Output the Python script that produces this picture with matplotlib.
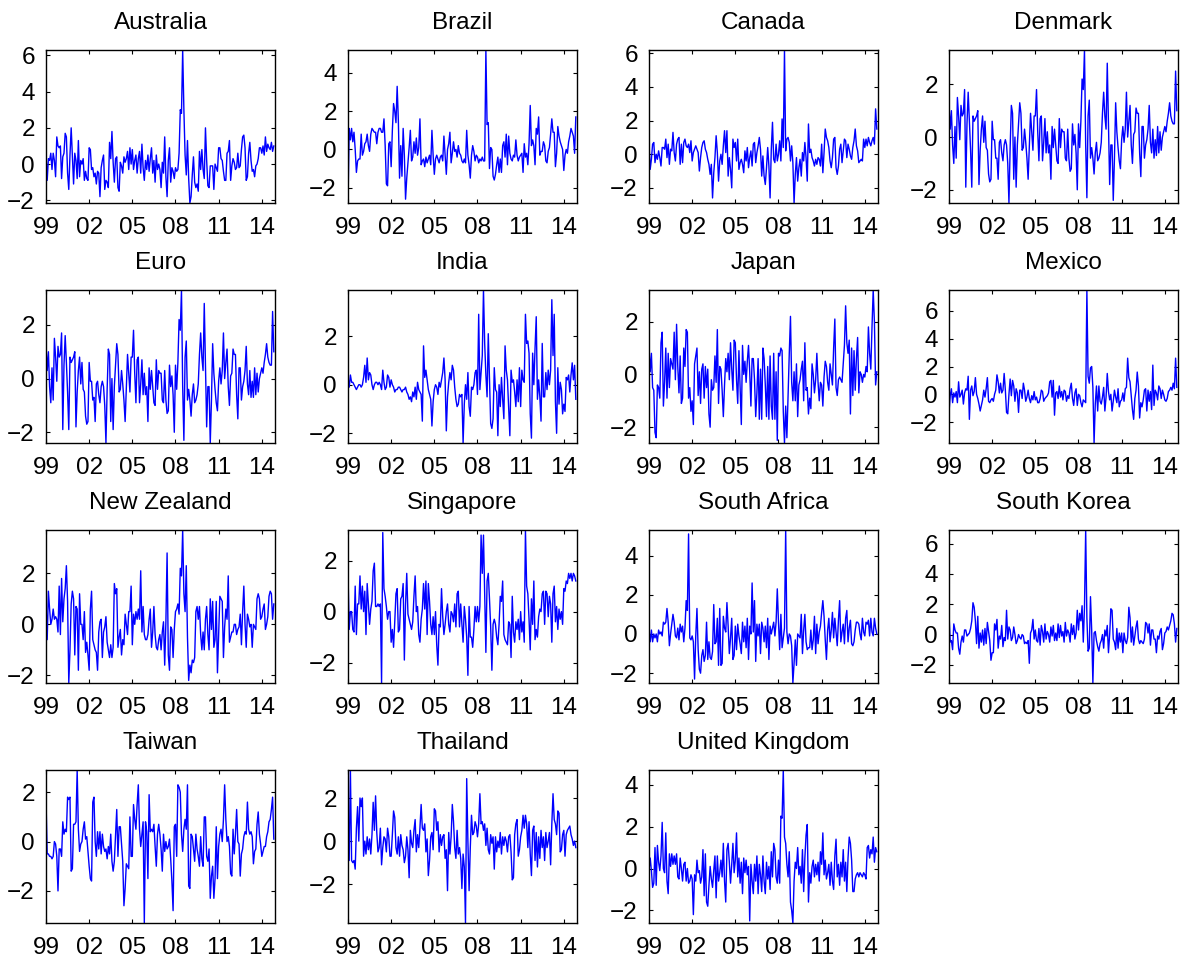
import numpy as np
import matplotlib
matplotlib.use('Agg')
import matplotlib.pyplot as plt
from matplotlib.ticker import MultipleLocator

plt.rcParams['font.family'] = ['Liberation Sans', 'DejaVu Sans']

countries = ['Australia', 'Brazil', 'Canada', 'Denmark',
             'Euro', 'India', 'Japan', 'Mexico',
             'New Zealand', 'Singapore', 'South Africa', 'South Korea',
             'Taiwan', 'Thailand', 'United Kingdom']

year_ticks = [1999, 2002, 2005, 2008, 2011, 2014]
year_labels = ['99', '02', '05', '08', '11', '14']

australia = [
    0.6, -0.9, 0.3, 0.2, 0.6, -0.3, 0.6, 0.2, -0.7, 1.5, 1.0, 0.9,
    1.0, -0.8, 0.4, 0.6, 1.7, 1.5, -0.5, -1.4, 0.5, 2.0, 0.5, -1.1,
    0.6, 0.2, -0.8, 1.3, -0.7, 0.2, 0.0, 0.3, -0.9, -0.4, -0.8, -0.9,
    0.9, 0.8, -0.3, -0.2, -0.7, -0.5, -1.1, -0.4, -0.5, -1.8, -0.2, 0.2,
    0.5, -1.4, -0.9, -1.0, -1.3, 1.2, 0.3, 1.8, 0.1, -1.0, 0.3, 0.4,
    -1.3, -1.5, 0.1, -0.1, -0.5, 0.4, 0.1, 0.3, 0.7, -0.3, 0.9, 0.0,
    0.8, -0.3, 0.2, 0.5, -0.5, 0.3, 0.7, -0.5, 1.1, -0.2, -0.9, 0.2,
    -0.3, 0.5, -0.4, 0.3, 0.9, -0.5, 0.2, -1.0, 0.5, -0.3, 0.0, -0.3,
    -1.3, 0.1, -0.5, 1.5, -0.7, -1.8, 0.2, 0.9, -1.0, -0.2, -0.4, -0.8,
    -0.2, -0.4, -0.3, 0.6, 3.0, 2.8, 6.3, 3.0, 0.5, -0.6, 1.3, -0.8,
    -2.15, -1.8, -0.6, 0.4, -1.0, -1.3, -1.1, -1.5, 0.7, -0.3, 0.8, -0.3,
    -0.8, 2.0, 0.2, -1.2, -1.3, -0.1, -0.1, -0.1, -1.4, 0.0, -0.2, -0.4,
    0.9, 0.9, 0.3, 0.2, -0.4, -0.9, -0.9, 0.6, 0.7, 1.3, -0.9, -0.1,
    0.3, 0.1, -0.3, -0.2, 0.6, -0.2, -0.1, 0.8, 1.5, 1.6, 0.9, -0.9,
    -0.7, 0.6, 1.2, 0.2, -0.4, -0.3, -0.7, -0.1, 0.0, 0.3, 0.9, 0.9,
    0.6, 1.0, 0.5, 1.5, 0.7, 1.1, 0.9, 0.8, 1.2, 0.7, 1.0]

brazil = [
    -2.8, 1.1, 0.5, 1.1, 0.4, 0.9, 0.0, -1.2, -0.6, -0.5, -0.5, 0.8,
    -0.3, -0.1, 0.3, 0.4, 0.8, 0.2, -0.1, 0.8, 1.1, 1.0, 0.9, 0.9,
    0.3, 0.9, 1.1, 1.1, 0.9, 0.9, 1.6, 0.2, -1.8, -1.9, 0.3, 0.4,
    -0.9, 1.0, 2.4, 2.0, 1.4, 3.3, 1.5, -1.5, 0.2, -1.4, 1.1, -0.3,
    -2.6, -1.5, -0.7, 0.1, 1.0, -0.6, -0.4, 0.4, -0.2, 0.6, -0.3, 0.1,
    1.6, -0.8, -0.6, -0.5, -0.9, -0.4, -0.7, -0.5, -0.3, -0.8, 1.0, -0.3,
    -1.3, -0.5, -0.3, -0.5, -0.7, -0.4, -0.3, -0.6, 0.7, -0.3, -1.3, 0.0,
    0.3, 0.9, -0.7, -0.2, 0.4, -0.1, 0.0, -0.4, 0.2, -0.2, -0.3, -0.6,
    -0.7, -0.5, -0.7, 1.0, -0.3, -0.8, -1.5, -0.3, 0.2, -0.1, -0.6, -0.3,
    -0.4, -0.7, -0.5, -0.6, -0.4, -0.6, -0.6, 5.2, 1.3, 1.4, -1.0, 0.1,
    0.0, -1.4, -1.6, -1.3, -0.8, -0.4, -1.2, -0.5, -1.2, 0.2, 0.4, -0.4,
    0.8, -0.8, 0.7, -0.2, -0.5, -0.6, -0.3, -0.4, 0.5, -0.3, -0.6, -0.4,
    -0.3, -0.2, -1.2, 0.3, -0.4, -0.2, -0.8, 0.3, 2.3, 0.2, 0.5, 0.2,
    -0.8, 1.1, 0.8, 1.7, -0.3, -0.1, -0.1, 0.4, 0.2, -0.6, -0.7, -0.1,
    0.1, 0.8, 1.6, 0.9, 0.9, -0.9, -0.2, 1.2, 0.7, 0.4, 0.2, 0.0,
    -1.1, -0.3, 0.0, -0.2, 0.4, 0.7, 1.1, 0.9, 0.7, -0.2, 1.7]

canada = [
    0.7, -0.9, -0.3, 0.6, 0.7, -0.5, 0.0, -0.3, 0.2, -0.2, -0.7, 0.4,
    0.4, 0.3, 0.9, -0.2, 0.6, -0.6, 0.3, 0.2, 1.3, 0.1, -0.4, 0.6,
    0.9, 1.0, -0.6, 0.6, -0.5, 0.7, 0.9, 0.5, 0.4, 0.6, 0.1, 0.8,
    -0.4, 0.1, 0.3, 0.5, 0.3, 0.1, -1.0, -0.2, 0.4, 0.7, 0.8, 0.3,
    0.1, -0.3, -0.6, -1.2, -0.6, -2.6, -1.1, -0.2, 1.1, 0.1, -1.6, -0.4,
    0.0, -0.6, 0.5, 1.4, 0.1, 1.4, -1.3, -0.2, -0.9, -2.0, 0.9, 0.4,
    0.7, -0.4, 0.9, -0.9, -0.5, -0.3, -0.6, -1.1, 0.2, -0.4, 0.4, -0.8,
    -0.2, 0.2, -0.7, 0.6, 0.7, -0.5, 0.1, 0.5, 1.0, 0.3, -1.3, -0.1,
    -1.3, -1.8, -0.8, 0.4, -0.7, -2.6, 0.3, 1.9, -0.3, -0.5, 0.6, -0.4,
    0.0, 0.8, -0.4, 2.1, 0.4, 6.2, 0.2, 0.9, 1.0, 0.7, -0.4, 0.5,
    -0.5, -2.9, -1.2, -0.2, -1.6, -0.8, -0.3, -1.3, 0.1, -0.4, 0.7, -0.2,
    -1.6, 1.8, 0.1, 0.3, -0.2, -0.4, -0.7, -0.3, -0.6, -0.2, -0.3, -0.7,
    0.6, -1.1, 0.1, 1.5, 1.0, 0.8, 0.4, -0.4, -0.8, -0.2, 0.9, 1.0,
    -0.8, -1.2, -0.7, 0.3, 0.6, -0.5, 0.2, 0.9, 0.8, -0.2, 0.6, 0.3,
    -0.1, -0.3, 0.4, 0.8, 1.5, 0.5, 0.2, -0.5, -0.4, -0.3, -0.4, 0.9,
    0.4, 0.9, 0.5, 1.0, 0.7, 0.5, 0.8, 1.0, 0.6, 2.7, 1.5]

denmark = [
    1.2, 0.3, 1.0, -0.3, -1.0, 0.4, -0.8, 1.5, 0.8, -0.1, 1.2, 0.8,
    0.9, 1.8, -1.9, 0.5, 1.7, 0.6, -0.5, -1.9, 0.8, 0.6, 0.7, 0.8,
    1.0, -1.8, -0.5, 0.3, 0.8, -0.2, 0.6, -0.4, -0.5, -1.4, -1.7, -1.6,
    0.6, -0.1, -0.1, -0.8, -0.8, -1.6, -0.2, -0.1, -0.6, -0.9, -0.3, -0.1,
    -0.3, -1.0, -2.5, -0.4, 1.2, 0.9, -1.6, 0.0, -1.9, -0.3, 0.5, 1.3,
    0.9, -0.5, -0.4, 0.3, -0.2, -0.8, -1.6, -0.4, 0.9, 0.2, -0.5, 0.8,
    0.8, 1.8, 0.2, -0.9, 0.7, 0.8, -0.9, -0.2, 0.7, -0.6, 0.2, -0.6,
    -0.3, -1.6, 0.4, -0.4, 0.3, -0.3, -0.9, -1.0, 0.7, -0.4, 0.3, 0.2,
    0.2, -0.8, -0.9, 0.3, -0.8, -1.3, -1.2, 0.5, -0.3, 0.1, -0.6, -2.0,
    0.5, -0.4, 0.6, 2.2, 1.8, 3.3, -0.3, -2.3, 0.8, 1.4, -0.8, -0.4,
    -0.8, -1.4, -0.6, -0.2, -0.9, -0.8, -0.6, -0.2, 0.9, 1.7, 0.8, 0.3,
    2.8, 0.5, -1.8, -0.3, -0.3, -2.4, -0.8, 1.3, 0.2, -0.4, -0.9, -1.2,
    -0.1, 0.4, -0.2, 0.3, 1.7, 0.0, 0.6, 1.2, -0.3, -1.0, 0.1, 0.2,
    1.1, 0.9, 0.9, -0.6, -1.5, 0.4, 0.4, -0.8, -0.3, -0.1, 0.3, 1.2,
    -0.2, -0.6, 0.3, -0.8, -0.1, -0.7, 0.4, -0.6, 0.2, -0.5, 0.0, 0.2,
    0.4, 0.2, 0.6, 0.9, 1.3, 0.8, 0.6, 0.5, 0.5, 2.5, 1.0]

euro = [
    1.2, 0.3, 1.0, -0.3, -0.9, 0.4, -0.8, 1.5, 0.8, -0.1, 1.2, 0.8,
    0.9, 1.7, -1.9, 0.5, 1.6, 0.6, -0.5, -1.9, 0.8, 0.6, 0.7, 0.8,
    1.0, -1.8, -0.5, 0.3, 0.8, -0.2, 0.6, -0.4, -0.5, -1.4, -1.7, -1.6,
    0.6, -0.1, -0.1, -0.8, -0.7, -1.6, -0.2, -0.1, -0.6, -0.9, -0.3, -0.1,
    -0.3, -1.0, -2.4, -0.4, 1.1, 0.9, -1.6, 0.0, -1.9, -0.3, 0.5, 1.3,
    0.9, -0.5, -0.4, 0.3, -0.2, -0.8, -1.6, -0.4, 0.9, 0.2, -0.5, 0.8,
    0.8, 1.8, 0.2, -0.9, 0.7, 0.8, -0.9, -0.2, 0.7, -0.6, 0.2, -0.6,
    -0.3, -1.6, 0.4, -0.4, 0.3, -0.3, -0.9, -1.0, 0.7, -0.4, 0.3, 0.2,
    0.2, -0.8, -0.9, 0.3, -0.8, -1.3, -1.2, 0.5, -0.3, 0.1, -0.6, -2.0,
    0.5, -0.4, 0.6, 2.2, 1.8, 3.3, -0.3, -2.3, 0.8, 1.4, -0.8, -0.4,
    -0.8, -1.4, -0.6, -0.2, -0.9, -0.8, -0.6, -0.2, 0.9, 1.7, 0.8, 0.3,
    2.8, 0.5, -1.8, -0.3, -0.3, -2.4, -0.8, 1.3, 0.2, -0.4, -0.9, -1.2,
    -0.1, 0.4, -0.2, 0.3, 1.7, 0.0, 0.6, 1.1, -0.3, -1.0, 0.1, 0.2,
    1.1, 0.9, 0.9, -0.6, -1.5, 0.4, 0.4, -0.8, -0.3, -0.1, 0.3, 1.2,
    -0.2, -0.6, 0.3, -0.7, -0.1, -0.7, 0.4, -0.6, 0.2, -0.5, 0.0, 0.2,
    0.4, 0.2, 0.6, 0.9, 1.3, 0.8, 0.6, 0.5, 0.5, 2.5, 1.0]

india = [
    0.3, -0.1, 0.4, 0.1, 0.1, 0.0, -0.1, -0.2, -0.1, 0.0, 0.0, -0.1,
    0.0, 0.3, 0.8, 0.1, 1.1, 0.2, 0.5, 0.4, 0.0, -0.2, 0.0, 0.1,
    0.1, 0.0, 0.1, 0.0, -0.2, 0.6, 0.1, -0.2, -0.1, 0.4, 0.3, -0.1,
    0.2, 0.0, -0.1, -0.3, -0.2, -0.2, -0.1, -0.1, -0.2, -0.3, -0.2, -0.2,
    -0.1, -0.3, -0.4, -0.6, -0.5, -0.7, -0.3, -0.5, -0.1, -0.6, 0.1, -0.2,
    -0.3, -0.4, -1.5, 1.6, 0.3, 0.6, 0.2, -0.2, -0.4, -0.6, -1.7, -0.7,
    -0.2, 0.0, -0.1, -0.4, 0.1, -0.1, 0.2, 0.5, 1.1, 0.2, -1.9, -0.5,
    0.1, 0.5, 0.2, 0.8, 0.6, -0.1, -0.6, -0.9, -0.8, -0.4, -0.5, -0.4,
    -2.4, -0.8, 0.0, -0.6, 0.5, -0.9, -1.3, -0.1, -0.2, 0.0, 0.5, 0.6,
    -0.4, 2.9, -0.2, 0.5, 1.2, 3.9, 1.7, 0.4, -0.5, 2.1, 0.3, -1.6,
    -1.8, -1.4, 0.7, -0.2, -0.3, -2.1, 0.0, -0.9, 0.3, -0.6, -1.4, 1.6,
    0.6, 0.2, -0.9, -2.1, 0.6, 0.1, 0.2, -0.3, -0.9, 0.2, -0.7, 0.7,
    -0.9, 0.6, 0.2, 0.1, 2.9, 1.7, 1.8, 1.3, -1.2, -2.2, 1.3, 0.0,
    1.5, 2.8, -0.6, 0.2, -0.5, -1.5, 1.7, -0.5, -0.5, 0.5, -0.2, 0.6,
    0.0, 0.6, 3.5, 1.2, 2.9, -0.7, -2.0, 0.7, -0.8, 0.1, -0.2, -1.2,
    -0.8, -1.1, 0.3, 0.2, 0.4, -0.3, 0.4, 0.9, 0.2, 0.8, -0.6]

japan = [
    1.0, 0.1, 0.8, -0.5, -0.6, -2.2, -2.4, -0.4, -0.5, -0.9, 1.2, 1.6,
    -1.2, -0.3, 1.0, -0.9, 0.8, -0.5, 0.6, 0.4, 0.2, 1.6, -0.2, 1.9,
    0.3, -0.7, 0.7, -1.1, -0.9, 1.0, 0.3, 1.7, 1.6, -0.9, -0.5, -1.4,
    -1.0, -1.9, 0.4, 0.7, 1.0, -0.8, 0.1, -1.1, 0.2, 0.4, -0.9, 0.3,
    -0.5, 0.2, -1.5, -2.0, -0.2, -0.6, -0.5, 0.7, -0.3, 1.7, -1.1, 0.3,
    0.2, -0.6, -1.6, -0.4, 0.6, 0.1, 0.8, -0.2, 1.2, 0.2, -0.6, 1.3,
    1.2, -0.2, -1.1, 0.9, -0.5, -1.9, 1.1, 0.0, 0.5, -0.3, 0.5, 1.1,
    0.1, -1.2, 0.6, 0.6, -0.2, -1.6, -0.7, 0.6, -1.7, 0.2, -1.7, 1.0,
    0.6, -0.4, -1.6, 0.3, -1.7, 0.7, -1.2, -1.7, 0.8, -1.7, 0.1, -2.5,
    0.8, 0.7, 1.0, 0.9, -1.4, -2.6, -1.2, -2.4, -0.8, 0.8, 2.2, -0.3,
    -1.0, 0.1, -1.0, 0.4, -1.6, -0.4, -0.2, 0.2, 0.5, -1.0, 1.2, -0.6,
    -0.5, -1.5, -0.9, -1.3, 0.4, 0.0, -0.7, -0.2, 0.8, -0.3, -1.0, -0.3,
    -0.4, -1.2, -0.1, 0.5, 0.3, -0.3, -0.6, 0.4, 0.0, -0.4, 1.0, 2.1,
    -0.5, -0.8, -0.2, -0.1, -0.2, -0.3, 0.4, 1.1, 2.6, 1.2, 0.8, 1.3,
    -1.5, 1.0, -0.8, 0.9, -0.6, 0.6, 1.4, -0.7, 0.1, 0.0, -0.3, 0.0,
    -0.1, 0.3, 0.1, 1.8, 0.8, 0.2, 1.8, 3.2, 2.0, -0.4, 0.1]

mexico = [
    -1.3, -0.1, 0.4, -0.6, 0.1, -0.2, 0.2, -0.6, 0.9, -0.2, 0.0, 0.3,
    -0.7, 0.1, 0.4, 0.3, 1.3, -1.8, 0.3, 0.6, -0.1, 0.2, 1.2, 0.0,
    -0.3, -0.7, -1.2, -0.8, -0.4, 0.3, -0.2, 0.4, 1.2, -0.5, -0.6, -0.4,
    -0.3, -0.5, 0.0, 0.3, 1.4, 0.9, 0.1, 0.8, 0.1, 0.3, 1.5, 0.3,
    -1.3, -1.4, 0.0, 1.1, -0.1, 1.0, 0.6, -0.5, 0.4, 0.1, -1.3, 0.3,
    0.3, -0.3, 0.8, 0.3, -0.5, -0.2, 0.3, -0.3, -0.6, -0.1, -0.4, 0.2,
    -0.4, -0.2, -0.6, -0.6, -0.3, 0.3, 0.2, -0.5, -0.3, -0.2, -0.1, 0.1,
    0.9, 1.0, -0.2, 1.0, -1.5, 0.1, 0.2, -0.3, 0.6, -0.2, 0.2, -0.4,
    0.3, 0.2, -0.5, -0.1, -0.3, 0.4, 0.8, -0.3, -0.8, 0.1, 0.4, -0.8,
    0.0, -0.1, -0.6, -0.9, -0.4, -0.5, -0.6, 7.5, 1.3, 0.8, 1.9, 2.0,
    0.5, -3.5, -0.7, 0.6, -1.2, 0.6, -0.5, -0.7, -0.2, 0.5, -1.2, -0.2,
    1.5, 0.2, -0.4, 0.0, -1.2, -0.5, 0.3, -0.2, -0.6, 0.4, -0.9, -0.5,
    -0.4, 0.1, -0.5, 0.4, 0.5, 2.6, 1.2, 0.9, -0.1, -1.1, -1.8, -0.3,
    0.3, 1.6, 0.6, -1.7, -0.6, -0.9, -0.4, 0.3, 0.4, -1.2, 0.3, -0.5,
    0.2, -1.1, 2.1, -0.8, 0.3, 0.1, -0.4, 0.6, 0.4, -0.3, 0.3, 0.0,
    -0.4, -0.5, -0.3, 0.2, 0.3, 0.5, 0.3, 0.8, 0.4, 2.6, 0.5]

new_zealand = [
    0.8, -0.6, 1.3, 0.6, 0.0, 0.2, 0.6, 0.2, 0.3, 0.2, -0.3, 1.5,
    -0.4, 1.8, 0.1, 1.0, 1.4, 2.3, 0.9, -2.3, -1.0, 0.8, 1.3, 1.0,
    -1.2, 0.7, 0.6, -1.8, 1.2, 0.0, 0.0, -0.6, 0.5, -1.1, -0.7, -1.2,
    -1.8, 0.6, 1.3, -0.6, -0.8, -1.0, -1.1, -1.8, -0.3, 0.1, 0.2, -1.3,
    -0.3, -0.1, 0.3, -0.7, -1.0, -1.3, -0.8, -1.3, -0.9, 1.6, 1.2, 1.4,
    -0.9, -0.5, -0.2, -1.2, -0.6, -0.8, 0.4, 0.0, -0.4, 0.5, 0.5, 1.5,
    -0.8, 0.4, 0.0, 0.5, 0.2, 0.6, 0.2, 2.1, -0.3, 0.7, -0.4, -0.6,
    -0.6, -0.4, 0.2, 0.6, -0.9, -0.3, 0.7, -0.4, -0.9, -1.0, -0.6, -0.4,
    -1.0, -0.3, 0.1, -1.6, 0.1, 2.8, -1.2, -1.8, -0.1, -0.2, -1.3, -0.2,
    0.5, 0.6, 0.8, 0.4, 2.2, 1.9, 3.7, 1.2, 0.5, 2.3, -0.5, -2.2,
    -1.6, -1.9, -1.4, -1.5, -1.3, 0.5, 0.7, 0.2, 0.7, -0.4, -1.0, -0.3,
    -1.0, 0.2, 0.7, -0.4, -1.0, 1.0, -0.2, 0.9, -0.9, -0.6, 0.9, -1.9,
    -0.4, 1.1, 1.0, 0.9, -1.3, -0.1, 0.6, 0.2, 1.9, -0.7, -0.5, -0.3,
    -0.3, 0.0, 0.0, -0.4, -0.2, -0.1, 0.4, -0.8, 0.5, 1.5, 0.0, -0.9,
    0.4, 0.2, -0.1, 0.0, -0.9, 0.0, -0.1, -0.2, 1.0, 1.2, 1.0, 0.2,
    0.3, 0.6, 0.8, -0.2, 0.0, 0.3, 1.1, 1.3, 1.2, 0.2, 0.8]

singapore = [
    1.5, -0.7, 0.0, 0.0, -0.7, -0.8, 1.0, -0.9, 0.3, 0.3, 1.4, 0.1,
    1.0, 0.0, 0.8, -0.9, 1.1, 0.3, -0.5, 0.1, 0.4, 1.6, 1.9, 0.2,
    0.2, 0.3, 0.2, 0.3, -2.8, 3.1, 0.9, 0.6, 0.2, -0.3, 0.0, 0.0,
    -1.2, -0.7, -1.4, -0.4, 0.7, 0.9, -0.8, -0.7, 0.5, 0.6, 1.1, -1.9,
    0.3, 1.5, -0.1, -0.3, -0.5, -0.7, -0.4, 0.6, 1.4, 0.0, 0.2, -0.9,
    -1.2, -0.3, 0.1, 1.1, 0.1, 1.2, -0.9, 1.1, 0.4, -0.5, -0.9, -0.2,
    -0.9, 0.0, -1.3, -2.1, -0.5, -0.6, 0.9, -0.2, -0.9, -0.5, 0.0, 0.3,
    -0.5, -0.8, 0.0, -0.1, -0.4, 0.3, -0.6, 0.7, 0.8, -0.6, 0.3, -0.5,
    -1.2, 0.2, -0.3, -1.0, -2.5, 0.2, -1.0, -1.0, -1.4, -0.7, 0.2, -0.4,
    0.2, -0.4, 0.2, 3.0, 1.5, 3.0, 0.6, -1.6, 1.2, 1.5, 0.5, -0.6,
    -2.3, -0.5, -0.3, -0.5, -1.0, -1.3, -0.5, 0.6, 0.4, 1.2, -0.9, -1.1,
    -1.2, -1.3, -0.4, -0.5, -1.8, 0.6, -0.8, -1.2, -0.4, -0.7, -0.3, -1.1,
    0.0, -0.8, -0.4, -1.2, 3.2, 1.0, 0.7, -0.3, -1.5, 0.5, -0.5, 1.2,
    -1.1, -0.7, -1.0, -0.2, 0.1, 0.0, 0.7, 0.8, -0.5, 0.8, 0.7, -0.2,
    0.6, 0.3, -1.2, 0.7, 1.0, -0.4, 0.2, -0.7, 0.1, -0.3, 0.0, -0.5,
    0.9, 0.8, 1.2, 1.1, 1.5, 1.3, 1.5, 1.2, 1.5, 1.4, 1.2]

south_africa = [
    0.2, -0.4, 0.2, -0.4, 0.0, -0.2, 0.0, -0.4, 0.2, 0.0, 0.1, -0.1,
    0.6, 0.5, 0.6, 1.3, 0.6, -0.6, 0.0, 0.5, 1.0, 0.6, -0.1, -0.2,
    0.3, -0.3, 0.5, 0.1, 0.4, -0.4, 0.3, 1.7, 1.2, 5.1, -0.2, -0.3,
    -0.1, -0.4, -2.3, -0.1, 1.3, -0.8, -1.8, -2.0, -1.1, -0.8, -1.4, -1.1,
    0.6, -1.3, -0.4, -1.2, -1.3, -0.9, 1.5, -0.5, -0.4, 0.8, -1.6, 1.3,
    -1.6, -1.5, 0.9, 0.3, 0.1, 1.6, 0.4, -1.0, -0.2, 0.8, -1.3, -1.1,
    0.4, -0.8, 0.5, -0.1, -0.5, -1.0, 0.6, -0.4, 0.4, -0.7, 0.8, -1.3,
    0.4, 0.0, 2.6, 0.1, 1.7, -1.4, 0.5, -0.1, 0.5, -1.0, 0.6, 0.3,
    -0.4, 0.4, -0.7, 0.8, -1.3, 0.4, 0.0, 0.3, 0.6, -0.1, 0.6, 2.3,
    0.6, -0.8, 1.0, -0.7, -0.2, 0.3, 5.3, 0.1, -0.5, 0.0, -0.1, -0.6,
    -2.5, -1.5, -0.3, -1.6, 0.0, -0.1, -0.2, 1.0, -1.0, 0.2, 1.0, -0.4,
    -0.8, -0.7, -0.7, 0.2, -0.8, -0.3, 0.9, -1.0, 0.5, -0.5, 0.1, 0.4,
    1.1, 1.7, 0.9, -0.3, -1.3, 0.2, 0.8, -0.4, 0.2, 1.1, -0.2, 0.8,
    0.1, -0.6, 0.7, 1.7, -0.4, 0.1, 0.5, -0.5, 0.8, 1.2, -0.4, 0.3,
    0.7, -0.5, -0.6, -0.4, 0.2, 0.6, 0.6, 0.5, 0.0, -0.3, 0.8, 0.1,
    -0.1, 0.6, 0.5, 0.7, -0.1, 0.8, 0.1, -0.1, 0.8, 0.3, 0.0]

south_korea = [
    1.4, -0.5, -0.4, -1.0, 0.7, 0.3, 0.1, 0.1, -0.9, -1.3, -0.5, -0.1,
    -0.5, 0.3, 0.3, -0.1, 0.0, 0.1, 0.4, 0.9, 2.1, 1.8, 0.9, -0.6,
    1.2, -0.9, 0.1, -0.5, 0.3, -0.7, 0.4, -0.6, 0.8, 0.2, -0.4, -1.7,
    -1.2, -1.2, 0.7, 0.3, 1.0, -0.9, -0.1, -0.3, 0.6, -0.8, -0.2, -0.4,
    1.6, -0.3, 0.5, 0.3, -0.4, -0.2, 0.5, 0.0, -0.6, -0.4, 0.0, -0.2,
    -0.3, 0.0, -0.1, -0.6, -0.5, -0.6, -0.4, -1.9, 0.1, 0.3, 1.0, -0.3,
    0.3, -0.4, -0.5, 0.4, -0.7, 0.6, 0.2, -0.5, 0.7, -0.3, 0.2, 0.0,
    -0.5, 0.5, -0.1, 0.6, -0.4, 0.1, -0.4, 0.7, -0.2, 0.6, -0.1, 0.2,
    -0.5, 0.8, -0.1, 0.3, 0.1, -0.5, 0.7, 0.0, 0.6, -0.3, 0.1, 1.6,
    0.3, 1.4, 0.9, 1.9, -0.5, 1.8, 6.9, 1.1, -1.1, -0.9, 2.5, 0.3,
    -3.2, 0.1, 0.2, -0.4, -0.8, -1.1, -0.6, -0.4, 0.0, -0.9, 0.3, -0.1,
    0.6, -1.2, 0.0, 1.7, 1.6, -0.3, -0.5, -1.0, 0.4, -0.9, 0.1, -0.5,
    0.1, -1.2, 0.1, -0.4, -0.6, -0.2, 1.8, 1.1, -0.5, 0.5, -0.7, -0.1,
    0.5, 0.9, -0.3, -0.6, -0.4, -0.5, -0.6, -0.3, 0.8, 0.7, 0.1, 0.7,
    -0.7, 0.3, 0.3, -0.3, -0.3, -1.2, -0.1, -0.3, 0.2, 0.4, -1.0, -0.6,
    0.1, 0.2, 0.5, 0.3, 0.6, 0.9, 1.4, 1.3, 0.7, -0.5, 0.4]

taiwan = [
    1.7, -0.5, -0.5, -0.6, -0.6, -0.7, -0.6, 0.0, -0.1, -0.6, -2.0, -0.3,
    -0.3, -0.6, 0.8, 0.3, 0.5, 0.4, 1.8, 1.7, 1.8, -1.2, -1.1, 0.7,
    0.7, 0.8, 2.9, 0.5, -0.4, -0.1, 0.0, 0.5, 0.8, 0.1, 0.2, -0.4,
    -1.0, -1.5, -1.6, 1.6, 1.8, 0.0, -0.6, 0.4, -0.3, 0.4, -0.5, 0.3,
    -0.2, -0.4, -0.3, -0.7, -0.2, -0.5, 0.3, -0.8, -1.2, -0.8, 0.3, 1.3,
    -0.6, 0.6, 0.6, -0.1, -0.8, -2.6, -1.9, -0.9, -1.0, -1.1, 1.0, -0.6,
    -0.6, 1.5, 0.9, 0.5, 1.5, 2.3, 0.5, -0.2, 0.3, 0.8, -3.3, 0.8,
    0.4, -1.5, 1.9, 0.4, 0.5, 0.4, 0.7, -0.2, -1.0, 0.3, 0.7, 0.3,
    -0.3, -1.2, 0.3, -0.4, 0.0, -0.3, -0.2, 0.1, -0.7, -1.6, -2.8, 0.6,
    0.7, -0.6, 2.3, 2.2, 2.0, 0.3, -0.4, 0.5, 0.9, 0.5, 2.3, -1.8,
    -1.9, 0.3, 0.2, -0.3, -0.8, 0.3, -0.3, -0.6, -1.0, 0.2, -0.7, -1.0,
    1.0, 1.0, -0.6, -0.8, -0.3, -2.3, -1.4, -1.0, -2.3, -1.5, 0.6, -1.5,
    -0.2, 0.3, 0.5, 0.0, 0.9, 2.3, 0.9, 0.0, 0.2, -0.2, -1.3, -1.4,
    0.5, -0.5, 0.3, 1.3, 0.0, -0.1, -1.4, -0.5, -0.3, 0.2, 0.4, 0.3,
    1.6, 0.5, 0.3, 0.4, 0.2, -0.9, -0.4, -0.3, 0.7, 1.2, 0.3, -0.1,
    -0.6, -0.4, -0.2, -0.2, 0.2, 0.4, 0.8, 0.9, 1.3, 1.8, 0.1]

thailand = [
    -0.2, -0.9, 3.3, -0.9, -1.0, -0.9, -1.3, 0.6, 1.6, 0.0, 2.0, 1.6,
    2.0, -0.7, 0.0, -0.6, 0.2, -0.4, 0.1, -0.6, 0.3, 1.8, 0.5, 2.1,
    0.4, -0.5, -0.3, 0.6, -1.1, -0.3, 0.2, 0.1, -0.5, 0.6, 0.2, -0.7,
    -0.7, 0.3, 1.4, 1.1, -0.3, -0.6, 0.2, -0.7, 0.3, -0.2, -0.4, -1.0,
    -0.7, 0.2, -0.4, -1.7, 0.5, -0.1, -0.3, 0.5, 1.0, -0.5, 0.3, -0.3,
    0.6, 1.7, 0.6, 0.5, 0.8, -0.5, 0.1, -1.6, -0.9, 0.2, 0.4, -0.4,
    1.5, 1.4, 0.5, 0.9, -0.5, 0.3, -0.2, 0.2, 0.3, -0.8, -0.4, -2.3,
    0.4, -0.6, 0.2, 1.7, 0.9, -0.3, -0.8, 0.5, -0.6, -0.3, -0.8, -2.2,
    -0.6, -1.2, -3.8, 2.9, 0.0, -2.3, -0.3, 1.2, 0.3, 0.4, 0.9, 0.7,
    0.2, 0.8, 2.2, 0.8, 0.9, 0.5, 0.8, -0.2, 0.6, -0.4, -0.6, 0.3,
    -0.1, 0.2, -1.3, 0.2, -0.5, 0.0, -0.3, 0.4, -0.6, 0.2, -0.2, 0.2,
    0.0, -0.5, 0.2, 0.3, -0.5, -1.8, -1.7, 0.3, 0.8, 1.0, -0.7, -0.4,
    0.2, 0.5, 1.2, 0.6, 1.2, 0.8, -0.3, 0.9, -0.6, -1.6, 0.5, 0.7,
    -0.9, 0.4, -1.2, 0.2, -0.8, 0.5, -0.3, 0.2, -0.9, 0.4, -0.3, 0.0,
    0.4, -1.1, 0.8, 2.2, 1.0, 0.8, 0.3, 1.4, 1.3, -0.5, -0.4, 0.3,
    0.5, -0.7, 0.3, 0.5, 0.6, 0.7, 0.3, 0.1, -0.2, 0.0, -0.3]

united_kingdom = [
    -0.1, 0.5, -0.1, -0.9, -0.7, 1.0, -0.8, 1.1, 0.3, -0.1, 0.6, 2.2,
    0.0, -0.2, 1.7, -0.6, -1.2, 0.7, 0.1, 0.7, 0.2, 0.6, 0.2, 0.7,
    -0.4, -0.5, 0.5, 0.0, -0.6, 0.2, 0.3, -0.6, 0.0, -0.7, -0.6, -0.3,
    -0.5, -2.2, -0.3, -0.6, 0.4, -0.2, -0.1, -0.7, -0.4, 0.9, -1.3, 0.7,
    -1.6, -1.8, -0.8, 0.1, -0.5, -0.9, -0.1, 0.6, -1.4, 0.6, -0.6, -0.2,
    0.4, -0.4, 1.2, -0.6, -1.6, 0.9, 1.2, 0.3, -0.7, 0.2, 1.2, -0.2,
    0.4, 1.7, -0.4, 0.5, -0.7, 0.3, -1.2, 0.5, -0.2, 0.4, -0.3, 0.1,
    -2.5, 0.2, -0.6, -1.2, 0.2, -0.6, 0.6, -1.2, 0.2, -0.3, -1.1, 0.6,
    -0.6, -1.2, 0.3, -0.5, 0.1, -1.0, 0.8, -0.4, 1.2, 0.9, -0.4, -0.7,
    0.4, -0.7, 2.5, 2.4, 4.7, 1.5, 1.2, 0.2, -0.4, 0.8, -1.6, -2.0,
    -2.6, -0.6, 0.3, 0.0, 1.0, -0.3, 0.1, -0.7, 0.9, -1.1, 0.5, 1.6,
    2.1, -1.6, -0.2, -0.7, 0.1, 0.4, -0.4, 0.2, -0.3, 0.3, -0.6, 0.8,
    0.2, 1.7, -0.3, 0.4, -0.5, -0.2, 0.2, -0.8, 0.3, -0.6, -1.0, 0.6,
    1.4, -0.4, 0.2, -0.8, 0.3, -0.4, 0.9, -0.6, 0.3, -1.1, 0.5, 1.5,
    1.2, 0.4, -1.1, -1.1, -0.5, -0.3, -0.2, -0.4, -0.2, -0.3, -0.4, -0.2,
    -0.3, -0.5, 1.0, 1.1, 0.5, 0.9, 0.7, 1.5, 0.3, 1.0, 0.8]

series = [australia, brazil, canada, denmark,
          euro, india, japan, mexico,
          new_zealand, singapore, south_africa, south_korea,
          taiwan, thailand, united_kingdom]

W, H = 1182, 957
fig = plt.figure(figsize=(W / 100, H / 100), dpi=100)

col_left = [46, 348, 649, 949]
row_top = [50, 290, 530, 770]
aw, ah = 229, 153

for i, (name, vals) in enumerate(zip(countries, series)):
    r, c = divmod(i, 4)
    ax = fig.add_axes([col_left[c] / W, (H - row_top[r] - ah) / H, aw / W, ah / H])
    v = np.asarray(vals, dtype=float)
    x = 1999 + np.arange(len(v)) / 12.0
    ax.plot(x, v, color='#0000ff', lw=1.0)
    ax.set_xlim(1999, 1999 + 191 / 12.0)
    ax.set_ylim(v.min(), v.max())
    ax.set_xticks(year_ticks)
    ax.set_xticklabels(year_labels)
    ax.yaxis.set_major_locator(MultipleLocator(2))
    ax.tick_params(direction='in', top=True, right=True, length=3,
                   width=0.8, labelsize=17.5, colors='black')
    ax.tick_params(axis='x', pad=10)
    ax.tick_params(axis='y', pad=8)
    ax.set_title(name, fontsize=17.5, pad=15)
    for s in ax.spines.values():
        s.set_linewidth(1.0)

fig.savefig('out.png', dpi=100)
